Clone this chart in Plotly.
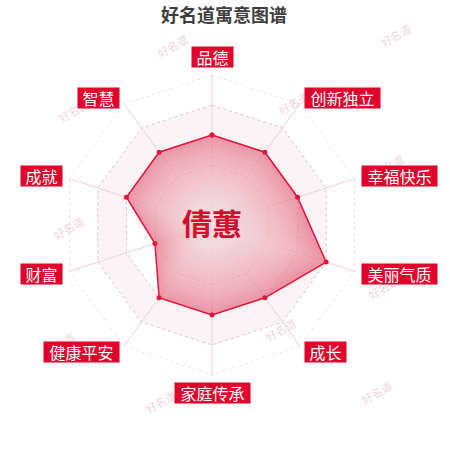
import math
import plotly.graph_objects as go

# ---- data ----
categories = ["品德", "创新独立", "幸福快乐", "美丽气质", "成长",
              "家庭传承", "健康平安", "财富", "成就", "智慧"]
values = [6, 6, 6, 8, 6, 6, 6, 4, 6, 6]
ring_levels = [2, 4, 6, 8, 10]
r_max = 10
name_text = "倩蕙"
title_text = "好名道寓意图谱"
watermark_text = "好名道"

# ---- layout constants (pixels) ----
W = H = 450
CX, CY, RAD = 212, 225, 150
FONT = "Noto Sans CJK SC"
RED = "#e0002b"
LINE_RED = "#e3163a"

n = len(categories)
theta_closed = categories + [categories[0]]
vals_closed = values + [values[0]]

fig = go.Figure()

# alternating split-area bands
for i, outer in enumerate(ring_levels):
    inner = ring_levels[i - 1] if i > 0 else 0
    if i % 2 == 1:
        fig.add_trace(go.Scatterpolar(
            r=[outer] * (n + 1) + [inner] * (n + 1),
            theta=theta_closed + theta_closed[::-1],
            mode="lines", fill="toself",
            fillcolor="rgba(238,212,220,0.26)",
            line=dict(width=0), hoverinfo="skip", showlegend=False,
            cliponaxis=False))

# dotted ring lines
for lv in ring_levels:
    fig.add_trace(go.Scatterpolar(
        r=[lv] * (n + 1), theta=theta_closed, mode="lines",
        line=dict(color="rgba(218,178,190,0.8)", width=1, dash="dot"),
        hoverinfo="skip", showlegend=False, cliponaxis=False))

# main filled area
fig.add_trace(go.Scatterpolar(
    r=vals_closed, theta=theta_closed, mode="lines", fill="toself",
    fillcolor="rgba(226,100,125,0.66)", line=dict(width=0),
    hoverinfo="skip", showlegend=False, cliponaxis=False))

# lighten toward the centre (radial-gradient look)
for j in range(1, 20):
    k = 1 - j * 0.05
    fig.add_trace(go.Scatterpolar(
        r=[v * k for v in vals_closed], theta=theta_closed, mode="lines",
        fill="toself", fillcolor="rgba(255,255,255,0.07)", line=dict(width=0),
        hoverinfo="skip", showlegend=False, cliponaxis=False))

# outline + points
fig.add_trace(go.Scatterpolar(
    r=vals_closed, theta=theta_closed, mode="lines+markers",
    line=dict(color=LINE_RED, width=1.5),
    marker=dict(size=5, color=LINE_RED),
    showlegend=False, cliponaxis=False))

fig.update_layout(
    width=W, height=H, margin=dict(l=0, r=0, t=0, b=0),
    paper_bgcolor="white", showlegend=False,
    polar=dict(
        domain=dict(x=[(CX - RAD) / W, (CX + RAD) / W],
                    y=[(H - CY - RAD) / H, (H - CY + RAD) / H]),
        bgcolor="rgba(0,0,0,0)", gridshape="linear",
        radialaxis=dict(range=[0, r_max], showgrid=False, showticklabels=False,
                        showline=False, ticks=""),
        angularaxis=dict(type="category", categoryarray=categories,
                         rotation=90, direction="clockwise",
                         showticklabels=False, ticks="", showline=False,
                         gridcolor="rgba(238,208,215,1)", gridwidth=1),
    ),
)

# watermarks
wm_pos = [(172, 28), (417, 17), (52, 93), (293, 85), (410, 148), (47, 228),
          (405, 287), (280, 348), (38, 362), (160, 420), (398, 410)]
for (px, py) in wm_pos:
    fig.add_annotation(x=px / W, y=1 - py / H, xref="paper", yref="paper",
                       text=watermark_text, showarrow=False, textangle=-30,
                       font=dict(family=FONT, size=11, color="rgba(222,160,172,0.45)"))

# title
fig.add_annotation(x=224 / W, y=1, xref="paper", yref="paper",
                   text="<b>" + title_text + "</b>", showarrow=False,
                   xanchor="center", yanchor="top", borderpad=0,
                   font=dict(family=FONT, size=18, color="#3d3d3d"))

# axis labels
for i, cat in enumerate(categories):
    ang = math.radians(i * 360 / n)
    s, c = math.sin(ang), math.cos(ang)
    R = RAD + 7
    x = (CX + R * s) / W
    y = (H - CY + R * c) / H
    xa = "left" if s > 0.01 else ("right" if s < -0.01 else "center")
    ya = "middle" if abs(c) < 0.99 else ("bottom" if c > 0 else "top")
    fig.add_annotation(x=x, y=y, xref="paper", yref="paper", text=cat,
                       showarrow=False, xanchor=xa, yanchor=ya,
                       font=dict(family=FONT, size=16, color="white"),
                       bgcolor=RED, width=len(cat) * 17 + 7, height=20,
                       borderpad=0, align="center")

# centre name
fig.add_annotation(x=CX / W, y=1 - 222 / H, xref="paper", yref="paper",
                   text="<b>" + name_text + "</b>", showarrow=False,
                   xanchor="center", yanchor="middle",
                   font=dict(family=FONT, size=30, color="#d80a2a"))

fig.write_html("out.html",
               config={"displayModeBar": False},
               post_script="document.body.style.margin='0';"
                           "document.body.style.overflow='hidden';")
